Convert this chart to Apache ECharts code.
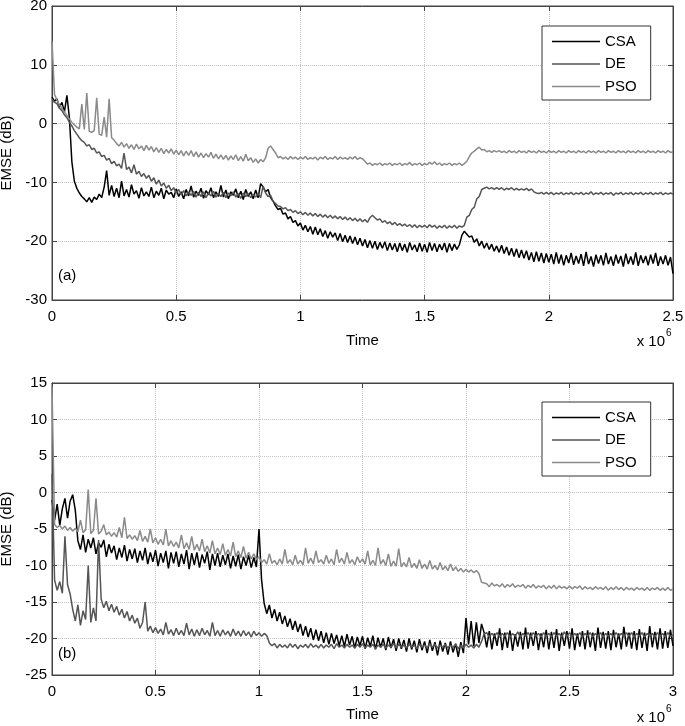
<!DOCTYPE html>
<html><head><meta charset="utf-8">
<script src="https://cdn.jsdelivr.net/npm/echarts@6/dist/echarts.min.js"></script>
<style>html,body{margin:0;padding:0;background:#fff}#c{width:685px;height:726px}</style>
</head><body><div id="c"></div>
<script>
// ---------- data (time in units of 10^6) ----------
const seriesNames = ['CSA', 'DE', 'PSO'];
const stepA = 0.01;    // sampling interval of panel (a)
const stepB = 0.0125;  // sampling interval of panel (b)

const csaA = [
 4.5, 3.8, 4.2, 2.8, 3.6, 2.0, 4.8, 1.0, -6.5, -9.8,
 -11.0, -11.8, -12.4, -12.8, -13.3, -12.6, -13.4, -12.5, -12.9, -12.0,
 -12.6, -10.8, -8.0, -12.2, -10.5, -12.4, -11.0, -12.6, -9.8, -12.3,
 -11.2, -12.5, -10.4, -12.0, -11.4, -12.7, -10.9, -12.3, -11.6, -12.4,
 -10.8, -12.6, -11.5, -12.2, -11.0, -12.8, -11.3, -12.0, -11.7, -12.6,
 -11.1, -12.4, -11.6, -12.8, -11.2, -12.3, -10.6, -12.5, -11.5, -12.2,
 -11.0, -12.7, -11.4, -12.1, -10.9, -12.6, -11.6, -12.4, -10.5, -12.5,
 -11.3, -12.8, -11.6, -12.2, -11.1, -12.6, -11.5, -12.9, -11.2, -12.4,
 -11.6, -12.8, -11.3, -12.6, -10.2, -10.8, -11.6, -11.2, -12.6, -13.2,
 -14.0, -14.6, -14.4, -15.4, -15.2, -16.2, -15.8, -16.8, -16.5, -17.4,
 -16.9, -18.1, -17.3, -18.4, -17.5, -18.8, -17.6, -18.9, -17.9, -19.2,
 -18.2, -19.5, -18.4, -19.3, -18.6, -19.9, -18.7, -20.1, -19.0, -20.2,
 -19.1, -20.4, -19.3, -20.6, -19.5, -20.8, -19.7, -21.1, -19.9, -21.2,
 -20.0, -21.4, -20.2, -21.2, -20.1, -21.6, -20.3, -21.5, -20.4, -21.8,
 -20.3, -21.6, -20.5, -21.9, -20.2, -21.5, -20.6, -21.8, -20.3, -21.7,
 -20.5, -21.9, -20.2, -21.6, -20.4, -21.8, -20.5, -21.5, -20.3, -21.9,
 -20.4, -21.6, -20.5, -21.4, -20.6, -19.0, -18.3, -18.8, -19.3, -19.1,
 -20.2, -19.6, -20.8, -20.0, -21.2, -20.3, -21.4, -20.5, -21.7, -20.8,
 -21.9, -20.7, -22.1, -21.0, -22.4, -21.2, -22.6, -21.3, -22.8, -21.5,
 -22.9, -21.6, -23.2, -21.9, -23.5, -21.8, -23.4, -22.0, -23.7, -22.1,
 -23.6, -22.2, -23.9, -21.9, -23.8, -22.3, -24.1, -22.4, -23.7, -22.0,
 -24.0, -22.5, -23.8, -22.2, -24.2, -21.8, -23.9, -22.6, -24.3, -22.3,
 -23.8, -22.4, -24.1, -22.0, -23.9, -22.6, -24.2, -22.3, -23.8, -22.5,
 -24.3, -22.1, -23.9, -22.6, -24.0, -21.9, -24.2, -22.4, -23.7, -22.5,
 -24.1, -22.3, -23.8, -22.0, -24.2, -22.6, -23.9, -22.4, -24.1, -22.7,
 -25.5];

const deA = [
 4.2, 3.6, 3.4, 2.6, 2.2, 1.5, 1.0, 0.2, -0.4, -1.2,
 -1.8, -2.4, -2.9, -3.2, -3.8, -3.6, -4.4, -4.2, -5.0, -4.8,
 -5.6, -5.4, -6.2, -5.9, -6.8, -6.4, -7.2, -6.9, -7.6, -5.0,
 -7.8, -7.4, -8.4, -7.0, -8.6, -8.1, -9.0, -8.5, -9.3, -8.8,
 -9.8, -9.2, -10.3, -9.6, -10.6, -10.1, -11.0, -10.5, -11.4, -10.9,
 -11.8, -11.2, -12.1, -11.4, -12.3, -11.6, -12.2, -11.5, -12.5, -11.7,
 -12.4, -11.6, -12.6, -11.8, -12.3, -11.5, -12.5, -11.9, -12.4, -11.7,
 -12.6, -11.8, -12.3, -11.6, -12.5, -11.9, -12.7, -11.8, -12.4, -11.9,
 -12.6, -12.0, -12.5, -11.9, -12.6, -10.6, -11.8, -12.4, -12.2, -13.2,
 -13.6, -14.0, -14.1, -14.5, -14.3, -14.8, -14.6, -15.1, -14.8, -15.3,
 -15.0, -15.5, -15.1, -15.6, -15.2, -15.7, -15.3, -15.8, -15.4, -15.9,
 -15.5, -16.0, -15.6, -16.1, -15.7, -16.2, -15.8, -16.3, -15.9, -16.4,
 -16.0, -16.5, -16.1, -16.6, -16.2, -16.7, -16.3, -16.8, -16.0, -15.6,
 -16.0, -16.4, -16.2, -16.8, -16.5, -17.0, -16.7, -17.2, -16.8, -17.3,
 -17.0, -17.4, -17.1, -17.5, -17.2, -17.6, -17.2, -17.7, -17.3, -17.6,
 -17.3, -17.7, -17.2, -17.6, -17.3, -17.8, -17.4, -17.7, -17.3, -17.8,
 -17.4, -17.7, -17.3, -17.8, -17.4, -17.6, -17.3, -15.9, -15.6, -14.6,
 -14.2, -12.8, -12.4, -11.2, -11.0, -10.8, -11.1, -10.9, -11.2, -10.9,
 -11.2, -10.9, -11.3, -11.0, -11.2, -10.9, -11.3, -11.0, -11.3, -11.1,
 -11.3, -11.0, -11.4, -11.1, -11.6, -11.8, -11.9, -11.7, -12.0, -11.7,
 -12.0, -11.7, -12.1, -11.8, -12.0, -11.7, -12.1, -11.8, -12.0, -11.7,
 -12.1, -11.8, -12.0, -11.7, -12.1, -11.8, -12.0, -11.6, -12.1, -11.8,
 -12.0, -11.7, -12.1, -11.8, -12.0, -11.7, -12.2, -11.8, -12.0, -11.7,
 -12.1, -11.8, -12.0, -11.7, -12.1, -11.8, -12.0, -11.7, -12.1, -11.8,
 -12.0, -11.7, -12.1, -11.8, -12.0, -11.7, -12.1, -11.8, -12.0, -11.8,
 -12.0];

const psoA = [
 14.0, 5.0, 4.0, 3.2, 2.6, 2.0, 1.4, 0.8, 0.2, -0.2,
 -0.6, -0.9, 3.3, -1.0, 5.2, -1.3, -1.5, -1.2, 4.4, -1.8,
 -2.0, 1.1, -2.3, 4.2, -2.4, -2.8, -3.4, -3.8, -3.2, -4.0,
 -3.4, -4.2, -3.6, -4.4, -3.5, -4.3, -3.8, -4.6, -3.7, -4.5,
 -3.9, -4.8, -4.1, -4.9, -4.2, -5.1, -4.4, -5.0, -4.3, -5.2,
 -4.5, -5.3, -4.6, -5.5, -4.7, -5.4, -4.6, -5.6, -4.8, -5.7,
 -5.0, -5.8, -5.1, -5.7, -4.9, -5.9, -5.2, -6.0, -5.3, -6.1,
 -5.4, -6.2, -5.5, -6.1, -5.3, -6.3, -5.6, -6.4, -5.2, -6.3,
 -5.8, -6.6, -6.0, -6.7, -6.1, -6.5, -5.8, -4.2, -3.8, -4.4,
 -5.0, -5.8, -5.6, -6.0, -5.7, -6.1, -5.6, -6.0, -5.7, -6.1,
 -5.7, -6.0, -5.6, -6.1, -5.8, -6.0, -5.7, -6.2, -5.7, -6.0,
 -5.6, -6.1, -5.8, -6.0, -5.6, -6.1, -5.7, -6.0, -5.8, -6.1,
 -5.7, -6.0, -5.6, -6.1, -5.8, -6.0, -6.4, -6.9, -6.7, -7.1,
 -6.8, -7.0, -6.7, -7.1, -6.8, -7.0, -6.7, -7.1, -6.8, -7.0,
 -6.7, -7.1, -6.8, -7.0, -6.6, -7.1, -6.8, -7.0, -6.7, -7.1,
 -6.8, -7.0, -6.6, -6.9, -6.5, -7.0, -6.7, -7.1, -6.8, -7.0,
 -6.7, -7.1, -6.8, -7.0, -6.7, -7.1, -6.8, -6.4, -5.6, -5.0,
 -4.7, -4.3, -4.0, -4.5, -4.4, -4.8, -4.6, -4.9, -4.6, -4.8,
 -4.6, -4.9, -4.7, -5.0, -4.6, -4.9, -4.7, -5.0, -4.6, -4.9,
 -4.7, -5.0, -4.6, -4.9, -4.7, -5.0, -4.6, -4.9, -4.7, -5.0,
 -4.6, -4.9, -4.7, -5.0, -4.6, -4.9, -4.7, -5.0, -4.6, -4.9,
 -4.7, -5.0, -4.6, -4.9, -4.7, -5.0, -4.6, -4.9, -4.7, -5.0,
 -4.6, -4.9, -4.7, -5.0, -4.6, -4.9, -4.7, -5.0, -4.6, -4.9,
 -4.7, -5.0, -4.6, -4.9, -4.7, -5.0, -4.6, -4.9, -4.7, -5.0,
 -4.6, -4.9, -4.7, -5.0, -4.6, -4.9, -4.7, -5.0, -4.6, -4.9,
 -4.8];

const csaB = [
 -1.0, -3.8, -1.6, -4.5, -2.2, -0.8, -3.5, -1.2,
 -0.3, -2.4, -6.6, -7.8, -5.8, -8.2, -6.4, -7.6,
 -6.2, -8.4, -6.9, -7.5, -6.5, -8.8, -7.1, -8.3,
 -7.3, -9.2, -7.6, -8.9, -7.2, -9.4, -7.8, -9.1,
 -7.7, -9.6, -8.0, -9.3, -7.6, -9.8, -8.2, -9.5,
 -7.9, -10.1, -8.3, -9.6, -8.0, -10.4, -8.2, -9.7,
 -8.1, -10.2, -8.4, -9.8, -7.9, -10.5, -8.3, -9.9,
 -8.2, -10.3, -8.5, -9.7, -8.1, -10.6, -8.4, -10.0,
 -8.3, -10.2, -8.6, -9.9, -8.4, -10.4, -8.7, -10.1,
 -8.5, -10.5, -8.8, -10.0, -8.6, -10.3, -8.9, -10.2,
 -5.0, -12.0, -15.2, -16.6, -15.4, -17.2, -16.0, -17.6,
 -16.4, -18.0, -16.9, -18.4, -17.3, -18.8, -17.6, -19.1,
 -18.0, -19.6, -18.3, -19.8, -18.6, -20.2, -18.8, -20.3,
 -19.0, -20.6, -19.2, -20.8, -19.3, -20.7, -19.5, -21.0,
 -19.6, -21.1, -19.4, -20.9, -19.7, -21.3, -19.8, -21.0,
 -19.7, -21.4, -19.9, -21.1, -19.6, -21.5, -19.9, -21.2,
 -20.0, -21.6, -19.8, -21.3, -20.1, -21.7, -20.0, -21.4,
 -20.2, -21.8, -20.0, -21.5, -20.3, -21.9, -20.1, -21.6,
 -20.4, -22.0, -20.2, -21.7, -20.5, -22.3, -20.3, -21.8,
 -20.6, -22.2, -20.4, -21.9, -20.7, -22.5, -20.5, -22.0,
 -17.2, -20.8, -17.6, -21.0, -17.8, -20.6, -18.0, -19.2,
 -21.2, -19.0, -21.5, -19.3, -21.0, -18.6, -21.6, -19.2,
 -21.3, -18.9, -21.7, -19.4, -21.1, -19.1, -21.5, -18.5,
 -21.4, -19.2, -21.0, -19.0, -21.6, -19.3, -21.2, -18.8,
 -21.5, -19.1, -21.3, -18.7, -21.7, -19.2, -21.0, -19.0,
 -21.4, -18.6, -21.6, -19.3, -21.1, -19.0, -21.5, -18.9,
 -21.2, -19.2, -21.7, -18.5, -21.3, -19.1, -21.4, -19.0,
 -21.6, -18.8, -21.2, -19.3, -21.5, -18.4, -21.1, -19.2,
 -21.4, -19.0, -21.6, -18.7, -21.3, -19.2, -21.7, -18.3,
 -21.2, -19.1, -21.5, -18.6, -21.4, -19.0, -21.3, -18.8,
 -21.0];

const deB = [
 2.5, -12.0, -13.4, -12.2, -13.8, -6.0, -12.6, -13.9,
 -16.0, -17.6, -15.4, -18.2, -16.2, -17.4, -10.0, -17.8,
 -15.8, -17.6, -6.5, -14.6, -15.8, -14.9, -16.2, -15.3,
 -16.4, -15.6, -16.8, -16.0, -17.2, -16.3, -17.6, -16.8,
 -17.9, -17.2, -18.6, -17.8, -15.0, -19.0, -18.3, -19.2,
 -18.5, -19.3, -18.7, -19.5, -17.8, -19.4, -18.8, -19.6,
 -18.6, -19.5, -18.9, -19.6, -17.9, -19.5, -18.7, -19.7,
 -18.8, -19.6, -18.6, -19.5, -18.9, -19.7, -17.8, -19.6,
 -18.9, -19.7, -18.8, -19.5, -19.0, -19.7, -18.7, -19.6,
 -19.0, -19.7, -18.9, -19.6, -19.1, -19.8, -19.0, -19.6,
 -19.2, -19.7, -19.3, -19.6, -20.6, -21.0, -20.7, -21.3,
 -20.8, -21.2, -20.9, -21.3, -20.7, -21.2, -20.8, -21.4,
 -20.9, -21.2, -20.8, -21.3, -20.7, -21.2, -20.9, -21.3,
 -20.8, -21.3, -20.9, -21.2, -20.8, -21.4, -20.7, -21.2,
 -20.9, -21.3, -20.8, -21.2, -20.9, -21.3, -20.8, -21.2,
 -20.7, -21.3, -20.9, -21.2, -20.8, -21.4, -20.9, -21.2,
 -20.8, -21.3, -20.9, -21.2, -20.7, -21.3, -20.8, -21.2,
 -20.9, -21.3, -20.8, -21.2, -20.9, -21.4, -20.8, -21.2,
 -20.9, -21.3, -20.7, -21.2, -20.8, -21.3, -20.9, -21.2,
 -20.8, -21.3, -20.9, -21.2, -20.8, -21.4, -20.9, -21.3,
 -20.8, -21.2, -20.9, -21.3, -20.8, -21.2, -20.4, -19.4,
 -19.2, -19.8, -19.3, -19.7, -19.2, -19.8, -19.3, -19.7,
 -19.2, -19.8, -19.3, -19.7, -19.1, -19.8, -19.3, -19.7,
 -19.2, -19.8, -19.2, -19.7, -19.3, -19.8, -19.2, -19.7,
 -19.3, -19.8, -19.2, -19.7, -19.3, -19.8, -19.1, -19.7,
 -19.2, -19.8, -19.3, -19.7, -19.2, -19.8, -19.3, -19.7,
 -19.2, -19.8, -19.3, -19.7, -19.2, -19.8, -19.3, -19.7,
 -19.3, -19.8, -19.2, -19.7, -19.3, -19.8, -19.2, -19.7,
 -19.2, -19.8, -19.3, -19.7, -19.2, -19.8, -19.3, -19.7,
 -19.3, -19.8, -19.2, -19.7, -19.3, -19.8, -19.2, -19.7,
 -19.5];

const psoB = [
 14.5, -4.4, -4.8, -4.5, -5.0, -4.6, -5.2, -4.8,
 -5.3, -4.9, -5.4, -3.8, -5.5, -5.1, 0.4, -5.6,
 -5.2, -0.8, -5.7, -5.3, -4.4, -5.8, -5.4, -6.0,
 -5.5, -6.1, -4.8, -6.2, -3.4, -6.3, -5.8, -6.4,
 -5.9, -6.6, -5.2, -6.7, -6.0, -6.8, -5.0, -6.9,
 -6.2, -7.1, -6.4, -7.2, -5.0, -7.3, -6.6, -7.4,
 -6.8, -7.6, -5.8, -7.7, -6.9, -7.8, -6.0, -7.9,
 -7.1, -8.0, -6.4, -8.1, -7.3, -8.3, -6.6, -8.4,
 -7.6, -8.5, -7.0, -8.6, -7.8, -8.7, -6.8, -8.8,
 -8.0, -8.9, -7.4, -9.0, -8.2, -9.1, -8.4, -9.2,
 -8.8, -9.6, -9.2, -9.8, -8.4, -9.7, -9.3, -9.9,
 -9.1, -9.8, -7.8, -9.7, -9.2, -9.9, -8.6, -9.8,
 -9.3, -9.9, -7.6, -9.7, -9.0, -9.8, -8.0, -9.6,
 -9.2, -9.8, -8.6, -9.7, -9.1, -9.9, -7.8, -9.6,
 -9.0, -9.8, -8.2, -9.7, -9.2, -9.9, -8.8, -9.6,
 -9.1, -9.8, -8.0, -9.9, -9.3, -10.0, -7.6, -9.8,
 -9.2, -10.0, -8.4, -10.1, -9.4, -10.1, -7.7, -10.2,
 -9.6, -10.2, -8.9, -10.3, -9.7, -10.4, -9.2, -10.4,
 -9.8, -10.5, -9.3, -10.5, -10.0, -10.6, -9.6, -10.6,
 -10.1, -10.7, -9.8, -10.7, -10.2, -10.8, -10.4, -10.9,
 -10.5, -10.9, -10.6, -11.0, -10.7, -11.1, -12.3, -12.4,
 -12.5, -12.9, -12.4, -12.8, -12.6, -12.9, -12.5, -13.0,
 -12.6, -12.9, -12.5, -13.0, -12.7, -12.9, -12.6, -13.1,
 -12.7, -13.0, -12.6, -13.1, -12.8, -13.0, -12.7, -13.2,
 -12.8, -13.1, -12.7, -13.2, -12.8, -13.1, -12.9, -13.2,
 -12.8, -13.2, -12.9, -13.1, -12.8, -13.3, -12.9, -13.2,
 -13.0, -13.3, -12.9, -13.2, -13.0, -13.3, -12.9, -13.4,
 -13.0, -13.3, -12.9, -13.3, -13.0, -13.4, -13.0, -13.3,
 -13.1, -13.4, -13.0, -13.3, -13.1, -13.4, -13.0, -13.4,
 -13.1, -13.3, -13.0, -13.4, -13.1, -13.4, -13.0, -13.4,
 -13.2];

const xRangeA = [0, 2.5], yRangeA = [-30, 20], yStepA = 10;
const xRangeB = [0, 3], yRangeB = [-25, 15], yStepB = 5;
const xStep = 0.5;

// ---------- chart ----------
const FONT = 'Liberation Sans, Arial, Helvetica, sans-serif';
const colors = { CSA: '#000000', DE: '#555555', PSO: '#8a8a8a' };
const pairs = (step, vals) => vals.map((v, i) => [+(i * step).toFixed(5), v]);

function xAx(grid, range, primary) {
  return {
    type: 'value', gridIndex: grid, min: range[0], max: range[1], interval: xStep,
    position: primary ? 'bottom' : 'top',
    name: primary ? 'Time' : '', nameLocation: 'middle', nameGap: grid === 0 ? 33 : 32,
    nameTextStyle: { fontFamily: FONT, fontSize: 15, color: '#000' },
    axisLine: { show: true, onZero: false, lineStyle: { color: '#444', width: 1 } },
    axisTick: { show: true, inside: true, length: 5, lineStyle: { color: '#444' } },
    axisLabel: { show: primary, fontFamily: FONT, fontSize: 15, color: '#000', margin: 9,
      formatter: v => String(v) },
    splitLine: { show: primary, lineStyle: { type: 'dotted', color: '#c4c4c4', width: 1 } }
  };
}
function yAx(grid, range, step, primary) {
  return {
    type: 'value', gridIndex: grid, min: range[0], max: range[1], interval: step,
    position: primary ? 'left' : 'right',
    name: primary ? 'EMSE (dB)' : '', nameLocation: 'middle', nameGap: 36, nameRotate: 90,
    nameTextStyle: { fontFamily: FONT, fontSize: 15, color: '#000' },
    axisLine: { show: true, onZero: false, lineStyle: { color: '#444', width: 1 } },
    axisTick: { show: true, inside: true, length: 5, lineStyle: { color: '#444' } },
    axisLabel: { show: primary, fontFamily: FONT, fontSize: 15, color: '#000', margin: 5 },
    splitLine: { show: primary, lineStyle: { type: 'dotted', color: '#c4c4c4', width: 1 } }
  };
}
function ser(name, grid, data) {
  return {
    type: 'line', name, xAxisIndex: grid * 2, yAxisIndex: grid * 2, data,
    symbol: 'none', showSymbol: false, animation: false, silent: true,
    color: colors[name], lineStyle: { color: colors[name], width: 1.5 }
  };
}
function leg(top) {
  return {
    orient: 'vertical', left: 542, top, padding: [8, 14, 6, 10], itemGap: 7.5,
    itemWidth: 48, itemHeight: 1.3, icon: 'rect', selectedMode: false,
    backgroundColor: '#fff', borderColor: '#333', borderWidth: 1,
    textStyle: { fontFamily: FONT, fontSize: 15, color: '#000' },
    data: seriesNames
  };
}
function txt(x, y, text, size, align) {
  return { type: 'text', x, y, z: 100, style: { text, fontFamily: FONT, fontSize: size, fill: '#000',
    textAlign: align || 'left', textVerticalAlign: 'middle' } };
}

const chart = echarts.init(document.getElementById('c'), null, { renderer: 'canvas' });
chart.setOption({
  backgroundColor: '#fff',
  animation: false,
  grid: [
    { left: 52, top: 6, width: 621, height: 294, show: true, borderColor: '#444', borderWidth: 1,
      backgroundColor: '#fff', containLabel: false, outerBoundsMode: 'none' },
    { left: 52, top: 383, width: 621, height: 292, show: true, borderColor: '#444', borderWidth: 1,
      backgroundColor: '#fff', containLabel: false, outerBoundsMode: 'none' }
  ],
  xAxis: [xAx(0, xRangeA, true), xAx(0, xRangeA, false), xAx(1, xRangeB, true), xAx(1, xRangeB, false)],
  yAxis: [yAx(0, yRangeA, yStepA, true), yAx(0, yRangeA, yStepA, false), yAx(1, yRangeB, yStepB, true), yAx(1, yRangeB, yStepB, false)],
  legend: [leg(26), leg(402)],
  series: [
    ser('CSA', 0, pairs(stepA, csaA)), ser('DE', 0, pairs(stepA, deA)), ser('PSO', 0, pairs(stepA, psoA)),
    ser('CSA', 1, pairs(stepB, csaB)), ser('DE', 1, pairs(stepB, deB)), ser('PSO', 1, pairs(stepB, psoB))
  ],
  graphic: [
    txt(58, 276, '(a)', 15), txt(58, 654, '(b)', 15),
    txt(665, 342, 'x 10', 15, 'right'), txt(666, 333, '6', 10),
    txt(665, 718, 'x 10', 15, 'right'), txt(666, 709, '6', 10)
  ]
});
</script></body></html>
